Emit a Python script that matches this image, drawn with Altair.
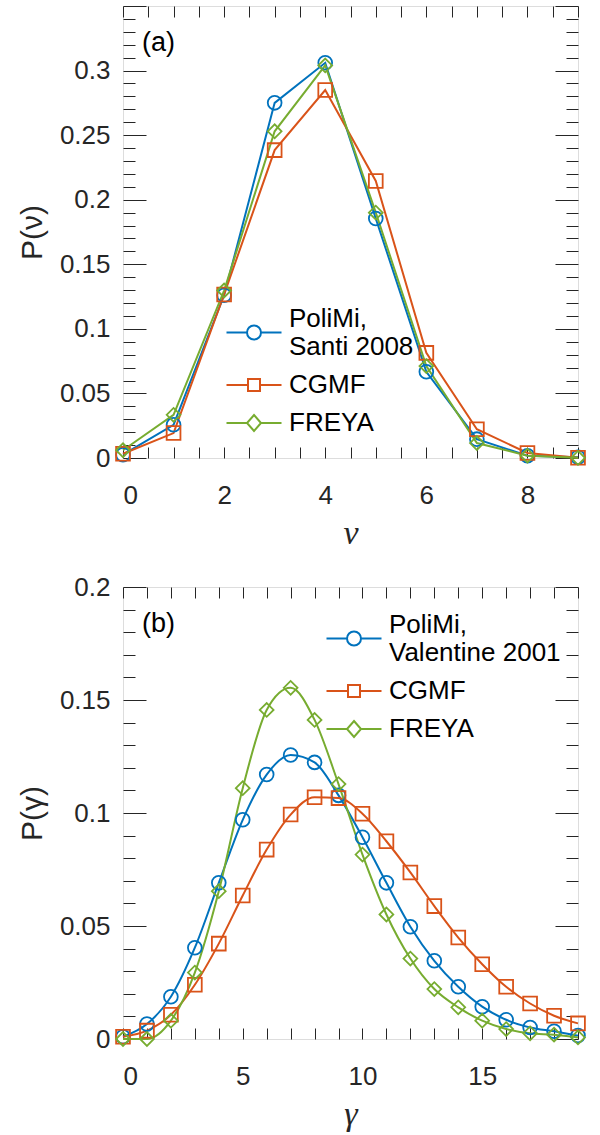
import altair as alt
import pandas as pd

# ---------------- data ----------------
nu = [0, 1, 2, 3, 4, 5, 6, 7, 8, 9]
nu_polimi = [0.0026, 0.0257, 0.126, 0.275, 0.306, 0.1855, 0.0668, 0.0146, 0.0018, 0.0005]
nu_cgmf = [0.0033, 0.0193, 0.1266, 0.2384, 0.2849, 0.2145, 0.0814, 0.0223, 0.0039, 0.0002]
nu_freya = [0.006, 0.0334, 0.1297, 0.253, 0.304, 0.190, 0.0712, 0.0116, 0.0018, 0.0001]

gam = list(range(20))
gam_polimi = [0.001, 0.0066, 0.0187, 0.0404, 0.0691, 0.097, 0.117, 0.1257, 0.1224, 0.1078,
              0.0893, 0.0691, 0.0497, 0.0346, 0.0231, 0.0143, 0.0085, 0.0051, 0.0034, 0.0015]
gam_cgmf = [0.001, 0.0037, 0.0107, 0.024, 0.0422, 0.0635, 0.0838, 0.0993, 0.107, 0.1066,
            0.0997, 0.0875, 0.0737, 0.0588, 0.0449, 0.0331, 0.0231, 0.0157, 0.0103, 0.0069]
gam_freya = [0.0, 0.0, 0.0081, 0.0294, 0.0654, 0.111, 0.1456, 0.1554, 0.1412, 0.1128,
             0.0816, 0.0551, 0.0356, 0.0221, 0.014, 0.0081, 0.0044, 0.0025, 0.0019, 0.0007]

series_a = ["PoliMi, Santi 2008", "CGMF", "FREYA"]
series_b = ["PoliMi, Valentine 2001", "CGMF", "FREYA"]
colors = ["#0072BD", "#D95319", "#77AC30"]
shapes = ["circle", "square", "diamond"]

# legend symbols: line + hollow marker (unit = 10 px, symbolSize 400);
# the first one sits between the two lines of its label
legend_shapes = [
    "M-2.75,1.35L-0.7,1.35M0.7,1.35L2.75,1.35M0.7,1.35A0.7,0.7 0 1,1 -0.7,1.35"
    "A0.7,0.7 0 1,1 0.7,1.35Z",
    "M-2.75,0L-0.6,0M0.6,0L2.75,0M-0.6,-0.6L0.6,-0.6L0.6,0.6L-0.6,0.6Z",
    "M-2.75,0L-0.7,0M0.7,0L2.75,0M0,-0.8L0.7,0L0,0.8L-0.7,0Z",
]

# axis tick values / labels
a_xlabels = [0, 2, 4, 6, 8]
a_xticks = [i * 0.5 for i in range(19)]
a_ylabels = [0, 0.05, 0.1, 0.15, 0.2, 0.25, 0.3]
a_yticks = [round(i * 0.01, 2) for i in range(36)]
b_xlabels = [0, 5, 10, 15]
b_xticks = list(range(20))
b_ylabels = [0, 0.05, 0.1, 0.15, 0.2]
b_yticks = [round(i * 0.01, 2) for i in range(21)]

W, H = 455, 452
INK = "#262626"
SANS = "Liberation Sans"
SERIF = "Liberation Serif"


def long_df(xs, names, ys_list):
    rows = []
    for name, ys in zip(names, ys_list):
        for x, y in zip(xs, ys):
            rows.append({"x": x, "y": y, "series": name})
    return pd.DataFrame(rows)


def tick_axis(orient, values, offset, major=False):
    if major:
        ts = {"condition": {"test": "abs(datum.value*20 - round(datum.value*20)) < 0.001",
                            "value": 23}, "value": 12}
    else:
        ts = 11
    return alt.Axis(orient=orient, values=values, offset=offset, labels=False,
                    domain=False, grid=False, ticks=True, tickSize=ts,
                    tickColor=INK, tickWidth=1, title=None)


def panel(df, names, xdom, xlabels, xticks, ylabels, yticks, ydom, ytitle, xtitle,
          interp, leg_x, leg_y, tag):
    xs = alt.Scale(domain=xdom, nice=False, zero=False)
    ys = alt.Scale(domain=ydom, nice=False, zero=False)

    x_lab = alt.Axis(orient="bottom", values=xlabels, format="d", ticks=False, tickSize=0,
                     domain=False, grid=False, labelFontSize=26, labelFont=SANS,
                     labelColor=INK, labelPadding=24, title=xtitle, titleFont=SERIF,
                     titleFontStyle="italic", titleFontWeight="normal", titleFontSize=34,
                     titleColor=INK, titlePadding=8)
    y_lab = alt.Axis(orient="left", values=ylabels, format="~g", ticks=False, tickSize=0,
                     domain=False, grid=False, labelFontSize=26, labelFont=SANS,
                     labelColor=INK, labelPadding=13, title=ytitle, titleFont=SANS,
                     titleFontWeight="normal", titleFontSize=30, titleColor=INK,
                     titlePadding=12)

    lines = alt.Chart(df).mark_line(strokeWidth=2, interpolate=interp, clip=False).encode(
        x=alt.X("x:Q", scale=xs, axis=x_lab),
        y=alt.Y("y:Q", scale=ys, axis=y_lab),
        color=alt.Color("series:N", scale=alt.Scale(domain=names, range=colors), legend=None),
    )
    points = alt.Chart(df).mark_point(filled=False, strokeWidth=1.8, size=190,
                                      opacity=1, clip=False).encode(
        x=alt.X("x:Q", scale=xs, axis=tick_axis("top", xticks, -H)),
        y=alt.Y("y:Q", scale=ys, axis=tick_axis("right", yticks, -W, major=True)),
        color=alt.Color("series:N", scale=alt.Scale(domain=names, range=colors), legend=None),
        shape=alt.Shape("series:N", scale=alt.Scale(domain=names, range=shapes), legend=None),
    )
    leg = alt.Legend(orient="none", legendX=leg_x, legendY=leg_y, title=None,
                     symbolSize=400, symbolStrokeWidth=2, labelFontSize=26,
                     labelFont=SANS, labelColor="black", labelOffset=22, labelLimit=500,
                     labelExpr="split(replace(datum.label, ', ', ',\\n'), '\\n')",
                     rowPadding=12, padding=0, symbolOpacity=1)
    legend_layer = alt.Chart(df).mark_point(filled=False, strokeWidth=2).encode(
        x=alt.X("x:Q", scale=xs, axis=tick_axis("bottom", xticks, -H)),
        y=alt.Y("y:Q", scale=ys, axis=tick_axis("left", yticks, -W, major=True)),
        color=alt.Color("series:N", scale=alt.Scale(domain=names, range=colors), legend=leg),
        shape=alt.Shape("series:N", scale=alt.Scale(domain=names, range=legend_shapes),
                        legend=leg),
    ).transform_filter("false")
    label = alt.Chart(pd.DataFrame({"t": [tag]})).mark_text(
        align="left", baseline="middle", fontSize=27, font=SANS, color="black"
    ).encode(x=alt.value(19), y=alt.value(37), text="t:N")

    return alt.layer(lines, points, legend_layer, label).resolve_axis(
        x="independent", y="independent"
    ).resolve_scale(color="independent", shape="independent").properties(width=W, height=H)


df_a = long_df(nu, series_a, [nu_polimi, nu_cgmf, nu_freya])
df_b = long_df(gam, series_b, [gam_polimi, gam_cgmf, gam_freya])

top = panel(df_a, series_a, [0, 9], a_xlabels, a_xticks, a_ylabels, a_yticks, [0, 0.35],
            "P(ν)", "ν", "linear", 118, 300, "(a)")
bottom = panel(df_b, series_b, [0, 19], b_xlabels, b_xticks, b_ylabels, b_yticks, [0, 0.2],
               "P(γ)", "γ", "monotone", 218, 25, "(b)")

chart = alt.vconcat(top, bottom, spacing=22).resolve_scale(
    color="independent", shape="independent"
).resolve_legend(color="independent", shape="independent").properties(
    padding={"left": 16, "top": 5, "right": 0, "bottom": 0}
).configure_view(stroke=INK, strokeWidth=1.3).configure(background="white")

chart.save("out.html", embed_options={"renderer": "svg", "actions": False})
